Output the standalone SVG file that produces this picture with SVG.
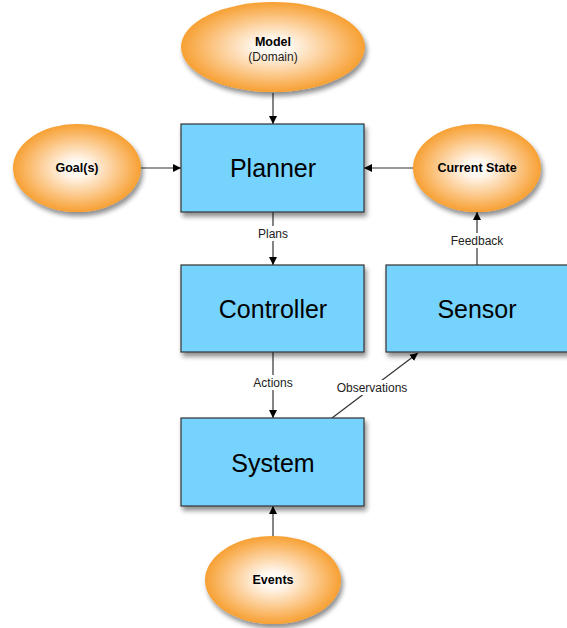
<svg xmlns="http://www.w3.org/2000/svg" width="567" height="628" viewBox="0 0 567 628">
<defs>
<radialGradient id="og" cx="50%" cy="50%" r="50%">
<stop offset="0" stop-color="#ffffff"/>
<stop offset="0.2" stop-color="#fff6ec"/>
<stop offset="0.6" stop-color="#fccb90"/>
<stop offset="1" stop-color="#f7a033"/>
</radialGradient>
<filter id="sh" x="-20%" y="-20%" width="150%" height="150%">
<feGaussianBlur in="SourceAlpha" stdDeviation="2.5"/>
<feOffset dx="2" dy="4" result="b"/>
<feComponentTransfer><feFuncA type="linear" slope="0.45"/></feComponentTransfer>
<feMerge><feMergeNode/><feMergeNode in="SourceGraphic"/></feMerge>
</filter>
<marker id="ah" viewBox="0 0 10 10" refX="10" refY="5" markerWidth="8" markerHeight="8" markerUnits="userSpaceOnUse" orient="auto">
<path d="M0,0 L10,5 L0,10 z" fill="#000"/>
</marker>
</defs>
<style>
.box{fill:#75d3fe;stroke:#333;stroke-width:1.2}
.ell{fill:url(#og);stroke:none}
.big{font-family:"Liberation Sans",Arial,sans-serif;font-size:25px;fill:#000;text-anchor:middle}
.bold{font-family:"Liberation Sans",Arial,sans-serif;font-size:12.5px;font-weight:bold;fill:#000;text-anchor:middle}
.sm{font-family:"Liberation Sans",Arial,sans-serif;font-size:12px;fill:#222;text-anchor:middle}
.ln{stroke:#333;stroke-width:1.2;fill:none}
.lbg{fill:#fff}
</style>
<g id="connectors">
<line class="ln" x1="273" y1="93" x2="273" y2="124" marker-end="url(#ah)"/>
<line class="ln" x1="141" y1="168" x2="181" y2="168" marker-end="url(#ah)"/>
<line class="ln" x1="413" y1="168" x2="364" y2="168" marker-end="url(#ah)"/>
<line class="ln" x1="273" y1="212" x2="273" y2="265" marker-end="url(#ah)"/>
<line class="ln" x1="273" y1="352" x2="273" y2="418" marker-end="url(#ah)"/>
<line class="ln" x1="332" y1="418" x2="418" y2="353" marker-end="url(#ah)"/>
<line class="ln" x1="477" y1="265" x2="477" y2="212" marker-end="url(#ah)"/>
<line class="ln" x1="273" y1="537" x2="273" y2="506" marker-end="url(#ah)"/>
<rect class="lbg" x="252" y="226" width="42" height="15"/>
<text class="sm" x="273" y="238">Plans</text>
<rect class="lbg" x="248" y="375" width="50" height="15"/>
<text class="sm" x="273" y="387">Actions</text>
<rect class="lbg" x="333" y="380" width="78" height="15"/>
<text class="sm" x="372" y="392">Observations</text>
<rect class="lbg" x="445" y="233" width="64" height="15"/>
<text class="sm" x="477" y="245">Feedback</text>
</g>
<g id="model"><ellipse class="ell" filter="url(#sh)" cx="273" cy="47" rx="92" ry="45"/>
<text class="bold" x="273" y="46">Model</text><text class="sm" x="273" y="61">(Domain)</text></g>
<g id="goals"><ellipse class="ell" filter="url(#sh)" cx="77" cy="168" rx="64" ry="44"/>
<text class="bold" x="77" y="172">Goal(s)</text></g>
<g id="current-state"><ellipse class="ell" filter="url(#sh)" cx="477" cy="168" rx="64" ry="44"/>
<text class="bold" x="477" y="172">Current State</text></g>
<g id="planner"><rect class="box" filter="url(#sh)" x="181" y="124" width="183" height="88"/>
<text class="big" x="273" y="177">Planner</text></g>
<g id="controller"><rect class="box" filter="url(#sh)" x="181" y="265" width="183" height="87"/>
<text class="big" x="273" y="318">Controller</text></g>
<g id="sensor"><rect class="box" filter="url(#sh)" x="386" y="265" width="183" height="87"/>
<text class="big" x="477" y="318">Sensor</text></g>
<g id="system"><rect class="box" filter="url(#sh)" x="181" y="418" width="183" height="88"/>
<text class="big" x="273" y="472">System</text></g>
<g id="events"><ellipse class="ell" filter="url(#sh)" cx="273" cy="580" rx="68" ry="44"/>
<text class="bold" x="273" y="584">Events</text></g>
</svg>
